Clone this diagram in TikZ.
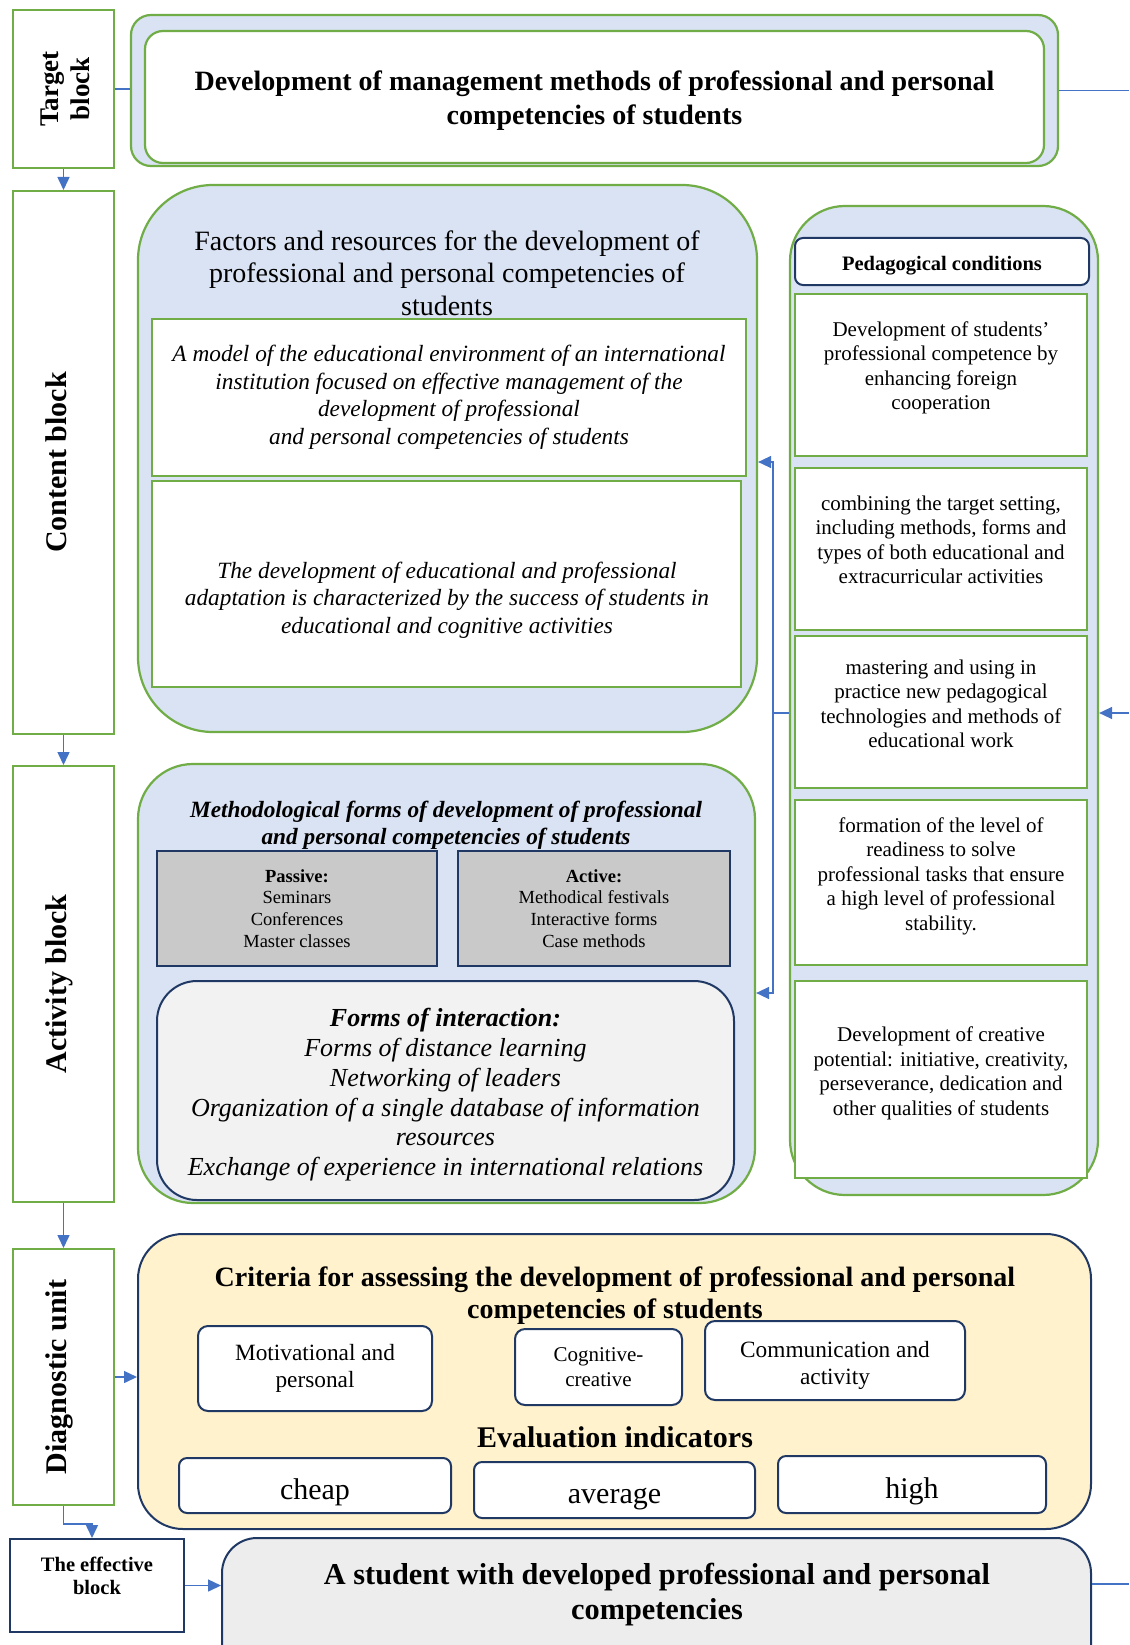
\documentclass[tikz,border=0pt]{standalone}
\usepackage{fontspec}
\setmainfont{Liberation Serif}
\usetikzlibrary{positioning, arrows.meta}
\definecolor{framefill}{HTML}{DAE3F3}
\definecolor{framegreen}{HTML}{70AD47}
\definecolor{navy}{HTML}{203864}
\definecolor{linkblue}{HTML}{4472C4}
\definecolor{critfill}{HTML}{FFF2CC}
\definecolor{formgray}{HTML}{C9C9C9}
\definecolor{interfill}{HTML}{F2F2F2}
\definecolor{resultfill}{HTML}{EDEDED}

\begin{document}
\begin{tikzpicture}[x=1pt, y=-1pt, >={Stealth[inset=0pt, length=13pt, width=12pt]},
        block node/.style={rectangle, draw=framegreen, line width=2pt, fill=white,
            inner sep=0pt, minimum width=101pt},
        block label/.style={rotate=90, anchor=base, font=\fontsize{30}{34}\selectfont\bfseries},
        frame node/.style={rectangle, rounded corners=#1, draw=framegreen, line width=2.2pt,
            fill=framefill, inner sep=0pt},
        green box/.style={rectangle, draw=framegreen, line width=2.2pt, fill=white, inner sep=0pt,
            align=center},
        navy box/.style={rectangle, rounded corners=#1, draw=navy, line width=2pt, fill=white,
            inner sep=0pt, align=center},
        cond box/.style={green box, minimum width=292pt},
        cond text/.style={align=center, inner sep=0pt, font=\fontsize{21}{24.5}\selectfont},
        form box/.style={rectangle, draw=navy, line width=2pt, fill=formgray, inner sep=0pt,
            align=center, minimum height=115pt, font=\fontsize{18.5}{21.7}\selectfont},
        value box/.style={navy box=8pt, font=\fontsize{30}{34}\selectfont, text height=27pt,
            text depth=0pt},
        title text/.style={align=center, inner sep=0pt},
        link/.style={draw=linkblue, line width=1.5pt}]

    \useasboundingbox (0,0) rectangle (1129,1645);
    \clip (0,0) rectangle (1129,1645);

    \node[block node, minimum height=158pt] (target) at (63.5,89) {};
    \node[block node, minimum height=543pt] (content) at (63.5,462.5) {};
    \node[block node, minimum height=436pt] (activity) at (63.5,984) {};
    \node[block node, minimum height=256pt] (diagnostic) at (63.5,1377) {};
    \node[block node, draw=navy, minimum width=174pt, minimum height=93pt] (effective) at (97,1585.5) {};

    \node[block label, anchor=center, align=center, font=\fontsize{27}{31}\selectfont\bfseries]
        (targetlabel) at (65,89) {Target\\block};
    \node[block label] (contentlabel) at (66,462.5) {Content block};
    \node[block label] (activitylabel) at (66,984) {Activity block};
    \node[block label] (diagnosticlabel) at (66,1377) {Diagnostic unit};
    \node[title text, font=\fontsize{20.5}{23.5}\selectfont\bfseries] (effectivelabel) at (97,1576)
        {The effective\\block};

    \node[frame node=20pt, minimum width=927pt, minimum height=151pt] (topframe) at (594.5,90.5) {};
    \node[green box, rounded corners=18pt, minimum width=899pt, minimum height=132pt] (goal) at (594.5,97) {};
    \node[title text, font=\fontsize{28}{34}\selectfont\bfseries] (goaltext) at (594.5,100.5)
        {Development of management methods of professional and personal\\competencies of students};

    \node[frame node=75pt, minimum width=619pt, minimum height=547pt] (factors) at (447.5,458.5) {};
    \node[title text, font=\fontsize{28}{32.5}\selectfont] (factorstitle) at (447,273)
        {Factors and resources for the development of\\professional and personal competencies of\\students};
    \node[green box, minimum width=594pt, minimum height=157pt, font=\fontsize{23.3}{27.5}\selectfont\itshape]
        (model) at (449,397.5)
        {A model of the educational environment of an international\\institution focused on effective management of the\\development of professional\\and personal competencies of students};
    \node[green box, minimum width=589pt, minimum height=206pt] (adaptation) at (446.5,584) {};
    \node[title text, font=\fontsize{23.3}{27.5}\selectfont\itshape] (adaptationtext) at (447,600)
        {The development of educational and professional\\adaptation is characterized by the success of students in\\educational and cognitive activities};

    \node[frame node=55pt, minimum width=308pt, minimum height=989pt] (conditions) at (944,700.5) {};
    \node[navy box=8pt, minimum width=294pt, minimum height=47pt, font=\fontsize{20.5}{24}\selectfont\bfseries,
        text height=20pt, text depth=2.4pt] (pedhead) at (942,261.5) {Pedagogical conditions};
    \node[cond box, minimum height=162pt] (cond1) at (941,375) {};
    \node[cond box, minimum height=162pt] (cond2) at (941,549) {};
    \node[cond box, minimum height=152pt] (cond3) at (941,712) {};
    \node[cond box, minimum height=165pt] (cond4) at (941,882.5) {};
    \node[cond box, minimum height=197pt] (cond5) at (941,1079.5) {};
    \node[cond text] (cond1text) at (941,368)
        {Development of students'\\professional competence by\\enhancing foreign\\cooperation};
    \node[cond text] (cond2text) at (941,540)
        {combining the target setting,\\including methods, forms and\\types of both educational and\\extracurricular activities};
    \node[cond text] (cond3text) at (941,704)
        {mastering and using in\\practice new pedagogical\\technologies and methods of\\educational work};
    \node[cond text] (cond4text) at (941,876)
        {formation of the level of\\readiness to solve\\professional tasks that ensure\\a high level of professional\\stability.};
    \node[cond text] (cond5text) at (941,1073.5)
        {Development of creative\\potential: initiative, creativity,\\perseverance, dedication and\\other qualities of students};

    \node[frame node=55pt, minimum width=617pt, minimum height=439pt] (methods) at (446.5,983.5) {};
    \node[title text, font=\fontsize{23.3}{27}\selectfont\bfseries\itshape] (methodstitle) at (446,825.5)
        {Methodological forms of development of professional\\and personal competencies of students};
    \node[form box, minimum width=280pt] (passive) at (297,908.5)
        {\textbf{Passive:}\\Seminars\\Conferences\\Master classes};
    \node[form box, minimum width=272pt] (active) at (594,908.5)
        {\textbf{Active:}\\Methodical festivals\\Interactive forms\\Case methods};
    \node[navy box=40pt, fill=interfill, minimum width=577pt, minimum height=219pt] (interaction) at (445.5,1090.5) {};
    \node[title text, font=\fontsize{26}{29.8}\selectfont\itshape] (interactiontext) at (445.5,1094.7)
        {\textbf{Forms of interaction:}\\Forms of distance learning\\Networking of leaders\\Organization of a single database of information\\resources\\Exchange of experience in international relations};

    \node[navy box=45pt, fill=critfill, minimum width=953pt, minimum height=295pt] (criteria) at (614.5,1381.5) {};
    \node[title text, font=\fontsize{28}{32.5}\selectfont\bfseries] (criteriatitle) at (615,1295.5)
        {Criteria for assessing the development of professional and personal\\competencies of students};
    \node[navy box=10pt, minimum width=234pt, minimum height=85pt, font=\fontsize{23.3}{27}\selectfont]
        (motivational) at (315,1368.5) {Motivational and\\personal};
    \node[navy box=10pt, minimum width=167pt, minimum height=76pt, font=\fontsize{21}{25}\selectfont]
        (cognitive) at (598.5,1367) {Cognitive-\\creative};
    \node[navy box=10pt, minimum width=260pt, minimum height=79pt] (communication) at (835,1360.5) {};
    \node[title text, font=\fontsize{23.3}{27}\selectfont] (communicationtext) at (835,1365)
        {Communication and\\activity};
    \node[title text, font=\fontsize{30}{34}\selectfont\bfseries] (indicators) at (615,1437) {Evaluation indicators};
    \node[value box, minimum width=272pt, minimum height=55pt] (cheap) at (315,1485.5) {cheap};
    \node[value box, minimum width=281pt, minimum height=56pt] (average) at (614.5,1490) {average};
    \node[value box, minimum width=268pt, minimum height=57pt] (high) at (912,1484.5) {high};

    \node[navy box=35pt, fill=resultfill, minimum width=869pt, minimum height=160pt] (result) at (656.5,1618) {};
    \node[title text, font=\fontsize{30.3}{35}\selectfont\bfseries] (resulttext) at (657,1594.5)
        {A student with developed professional and personal\\competencies};

    \coordinate (bus) at (773,713);
    \coordinate (goalout) at (1129,90.5);
    \coordinate (feedback) at (1129,713);
    \coordinate (resultout) at (1129,1584);

    \draw[link, ->] (target) -- (content);
    \draw[link, ->] (content) -- (activity);
    \draw[link, ->] (activity) -- (diagnostic);
    \draw[link, ->] (diagnostic.south) -- ++(0,18) -| ([xshift=-5pt]effective.north);
    \draw[link, ->] (effective.east) -- (effective.east -| result.west);
    \draw[link, ->] (diagnostic.east) -- (diagnostic.east -| criteria.west);
    \draw[link] (target.east) -- (target.east -| topframe.west);
    \draw[link] (topframe.east) -- (goalout);
    \draw[link, ->] (feedback) -- (feedback -| conditions.east);
    \draw[link] (resultout -| result.east) -- (resultout);
    \draw[link] (bus -| conditions.west) -- (bus);
    \draw[link, ->] (bus) |- ([yshift=-3.5pt]factors.east);
    \draw[link, ->] (bus) |- ([yshift=-9.5pt]methods.east);
\end{tikzpicture}
\end{document}
